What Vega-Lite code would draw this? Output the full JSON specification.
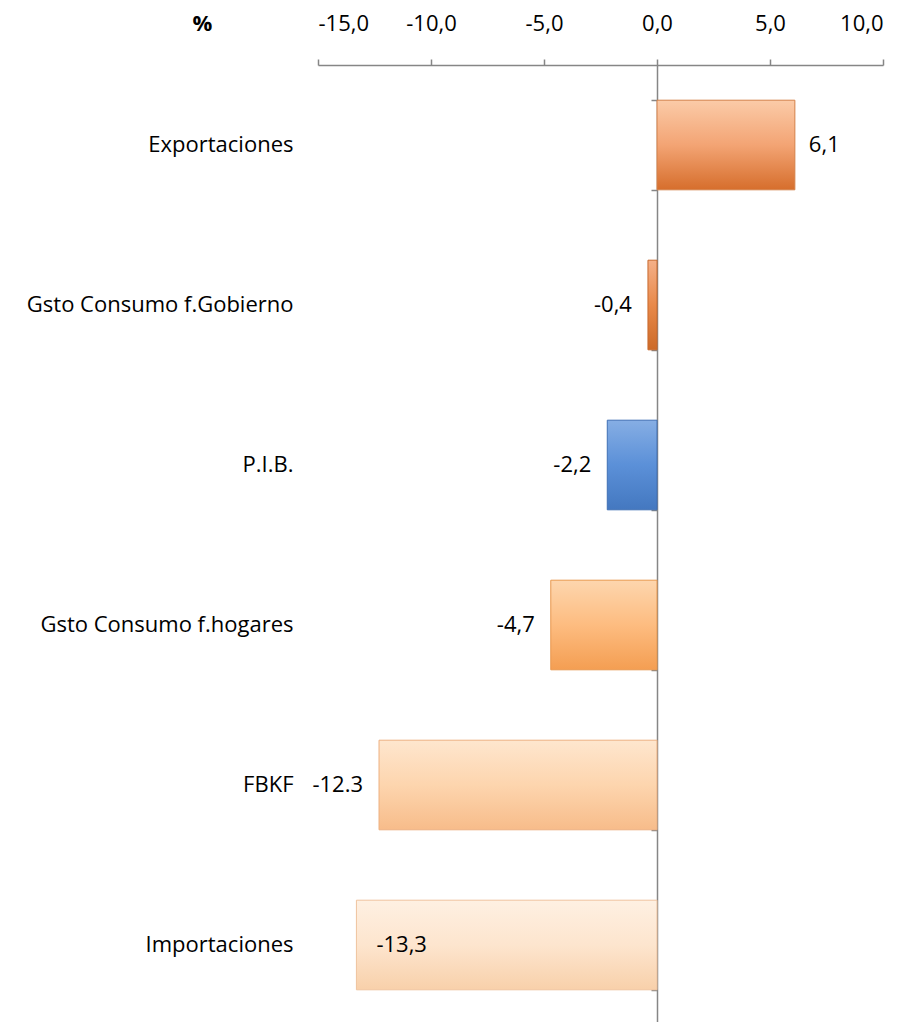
{
  "$schema": "https://vega.github.io/schema/vega-lite/v6.json",
  "width": 565,
  "height": 960,
  "autosize": {"type": "none"},
  "padding": {"left": 318, "top": 65, "right": 28, "bottom": 0},
  "background": "white",
  "config": {
    "view": {"stroke": null},
    "font": "Open Sans",
    "axis": {"labelFont": "Open Sans", "titleFont": "Open Sans"}
  },
  "data": {
    "values": [
      {"cat": "Exportaciones", "value": 6.1, "label": "6,1"},
      {"cat": "Gsto Consumo f.Gobierno", "value": -0.4, "label": "-0,4"},
      {"cat": "P.I.B.", "value": -2.2, "label": "-2,2"},
      {"cat": "Gsto Consumo f.hogares", "value": -4.7, "label": "-4,7"},
      {"cat": "FBKF", "value": -12.3, "label": "-12.3"},
      {"cat": "Importaciones", "value": -13.3, "label": "-13,3"}
    ]
  },
  "resolve": {"axis": {"y": "independent"}},
  "layer": [
    {
      "transform": [{"filter": "datum.cat === 'Exportaciones'"}],
      "mark": {"type": "bar", "stroke": "#D48048", "strokeWidth": 1,
        "color": {"gradient": "linear", "x1": 0, "y1": 0, "x2": 0, "y2": 1,
          "stops": [{"offset": 0, "color": "#FBCBA8"}, {"offset": 0.5, "color": "#F3A474"}, {"offset": 1, "color": "#D66E2C"}]}},
      "encoding": {
        "y": {"field": "cat", "type": "nominal",
          "scale": {"domain": ["Exportaciones", "Gsto Consumo f.Gobierno", "P.I.B.", "Gsto Consumo f.hogares", "FBKF", "Importaciones"], "paddingInner": 0.44, "paddingOuter": 0.22},
          "axis": {"orient": "left", "title": null, "domain": false, "ticks": false, "labelPadding": 25, "labelFontSize": 22, "labelColor": "#000000", "labelFont": "Open Sans", "labelLimit": 0}},
        "x": {"field": "value", "type": "quantitative",
          "scale": {"domain": [-15, 10], "nice": false, "zero": false},
          "axis": {"orient": "top", "values": [-15, -10, -5, 0, 5, 10], "grid": false,
            "labelExpr": "replace(replace(format(datum.value, '.1f'), '.', ','), '\u2212', '-')",
            "labelFontSize": 22, "labelColor": "#000000", "labelPadding": 24,
            "tickSize": 6, "tickColor": "#868686", "domainColor": "#868686", "domainWidth": 1.5, "tickWidth": 1.5,
            "title": "%", "titleFontWeight": "bold", "titleFontSize": 22, "titleColor": "#000000",
            "titleX": -116, "titleY": -42, "titleAngle": 0, "titleAlign": "center", "titleBaseline": "middle"}}
      }
    },
    {
      "transform": [{"filter": "datum.cat === 'Gsto Consumo f.Gobierno'"}],
      "mark": {"type": "bar", "stroke": "#C8692C", "strokeWidth": 1,
        "color": {"gradient": "linear", "x1": 0, "y1": 0, "x2": 0, "y2": 1,
          "stops": [{"offset": 0, "color": "#F4B088"}, {"offset": 0.5, "color": "#E8894A"}, {"offset": 1, "color": "#CC6A28"}]}},
      "encoding": {
        "y": {"field": "cat", "type": "nominal", "axis": null},
        "x": {"field": "value", "type": "quantitative"}
      }
    },
    {
      "transform": [{"filter": "datum.cat === 'P.I.B.'"}],
      "mark": {"type": "bar", "stroke": "#3F6FB4", "strokeWidth": 1,
        "color": {"gradient": "linear", "x1": 0, "y1": 0, "x2": 0, "y2": 1,
          "stops": [{"offset": 0, "color": "#86AEE4"}, {"offset": 0.5, "color": "#5B90D8"}, {"offset": 1, "color": "#4478C0"}]}},
      "encoding": {
        "y": {"field": "cat", "type": "nominal", "axis": null},
        "x": {"field": "value", "type": "quantitative"}
      }
    },
    {
      "transform": [{"filter": "datum.cat === 'Gsto Consumo f.hogares'"}],
      "mark": {"type": "bar", "stroke": "#E8984E", "strokeWidth": 1,
        "color": {"gradient": "linear", "x1": 0, "y1": 0, "x2": 0, "y2": 1,
          "stops": [{"offset": 0, "color": "#FDD6AE"}, {"offset": 0.5, "color": "#FDBC80"}, {"offset": 1, "color": "#F49E52"}]}},
      "encoding": {
        "y": {"field": "cat", "type": "nominal", "axis": null},
        "x": {"field": "value", "type": "quantitative"}
      }
    },
    {
      "transform": [{"filter": "datum.cat === 'FBKF'"}],
      "mark": {"type": "bar", "stroke": "#EDB080", "strokeWidth": 1,
        "color": {"gradient": "linear", "x1": 0, "y1": 0, "x2": 0, "y2": 1,
          "stops": [{"offset": 0, "color": "#FEE6CE"}, {"offset": 0.5, "color": "#FDD5AE"}, {"offset": 1, "color": "#F7BC8A"}]}},
      "encoding": {
        "y": {"field": "cat", "type": "nominal", "axis": null},
        "x": {"field": "value", "type": "quantitative"}
      }
    },
    {
      "transform": [{"filter": "datum.cat === 'Importaciones'"}],
      "mark": {"type": "bar", "stroke": "#EFC39E", "strokeWidth": 1,
        "color": {"gradient": "linear", "x1": 0, "y1": 0, "x2": 0, "y2": 1,
          "stops": [{"offset": 0, "color": "#FEF0E2"}, {"offset": 0.5, "color": "#FDE5CE"}, {"offset": 1, "color": "#F8D0AA"}]}},
      "encoding": {
        "y": {"field": "cat", "type": "nominal", "axis": null},
        "x": {"field": "value", "type": "quantitative"}
      }
    },
    {
      "transform": [{"filter": "datum.value > 0"}],
      "mark": {"type": "text", "align": "left", "baseline": "middle", "dx": 14, "fontSize": 22, "font": "Open Sans", "color": "#000000"},
      "encoding": {
        "y": {"field": "cat", "type": "nominal",
          "axis": {"orient": "left", "offset": -339, "labels": false, "title": null, "domain": true, "domainColor": "#868686", "domainWidth": 1.5, "ticks": true, "tickBand": "extent", "tickSize": 6, "tickColor": "#868686", "tickWidth": 1.5}},
        "x": {"field": "value", "type": "quantitative"},
        "text": {"field": "label"}
      }
    },
    {
      "transform": [{"filter": "datum.value < 0 && datum.cat !== 'Importaciones'"}],
      "mark": {"type": "text", "align": "right", "baseline": "middle", "dx": -16, "fontSize": 22, "font": "Open Sans", "color": "#000000"},
      "encoding": {
        "y": {"field": "cat", "type": "nominal", "axis": null},
        "x": {"field": "value", "type": "quantitative"},
        "text": {"field": "label"}
      }
    },
    {
      "transform": [{"filter": "datum.cat === 'Importaciones'"}],
      "mark": {"type": "text", "align": "left", "baseline": "middle", "dx": 20, "fontSize": 22, "font": "Open Sans", "color": "#000000"},
      "encoding": {
        "y": {"field": "cat", "type": "nominal", "axis": null},
        "x": {"field": "value", "type": "quantitative"},
        "text": {"field": "label"}
      }
    }
  ]
}
